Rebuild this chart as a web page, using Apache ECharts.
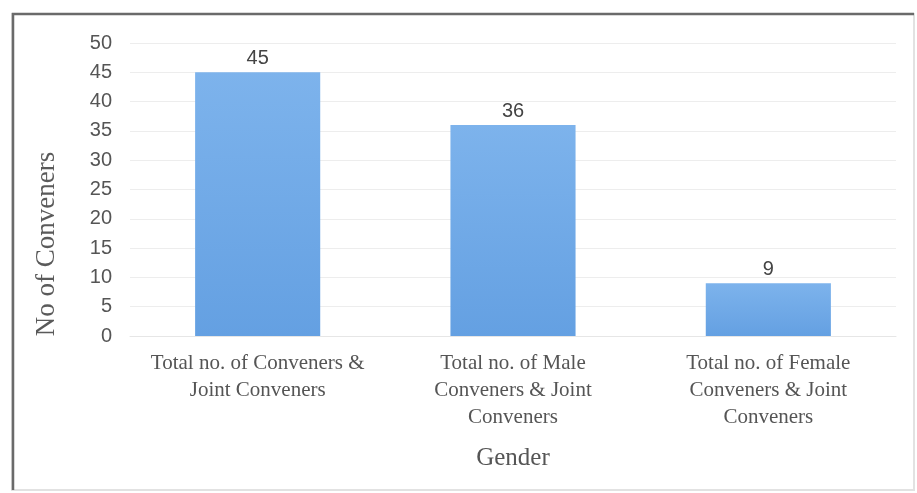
<!DOCTYPE html>
<html>
<head>
<meta charset="utf-8">
<script src="https://cdn.jsdelivr.net/npm/echarts@6/dist/echarts.min.js"></script>
<style>
  html, body { margin: 0; padding: 0; background: #fff; }
  #chart { width: 917px; height: 493px; }
</style>
</head>
<body>
<div id="chart"></div>
<script>
  const categories = [
    'Total no. of Conveners &\nJoint Conveners',
    'Total no. of Male\nConveners & Joint\nConveners',
    'Total no. of Female\nConveners & Joint\nConveners'
  ];
  const conveners = [45, 36, 9];

  const myChart = echarts.init(document.getElementById('chart'));
  myChart.setOption({
    animation: false,
    backgroundColor: '#fff',
    grid: { left: 130, right: 21, top: 43, bottom: 157 },
    graphic: [
      // scanned frame: dark left/top, faint right/bottom
      {
        type: 'rect',
        shape: { x: 12, y: 14, width: 902, height: 476 },
        style: { fill: 'none', stroke: '#e2e2e2', lineWidth: 2 }
      },
      {
        type: 'polyline',
        shape: { points: [[13, 490], [13, 14], [914, 14]] },
        style: { fill: 'none', stroke: '#6a6a6a', lineWidth: 2.5 }
      },
      {
        type: 'text',
        x: 47, y: 244,
        rotation: Math.PI / 2,
        style: {
          text: 'No of Conveners',
          fontFamily: 'Liberation Serif', fontSize: 27, fill: '#5a5a5a',
          align: 'center', verticalAlign: 'middle'
        }
      }
    ],
    xAxis: {
      type: 'category',
      data: categories,
      name: 'Gender',
      nameLocation: 'middle',
      nameGap: 110,
      nameTextStyle: { fontFamily: 'Liberation Serif', fontSize: 25, color: '#555' },
      axisLine: { show: true, lineStyle: { color: '#e6e6e6' } },
      axisTick: { show: false },
      axisLabel: {
        fontFamily: 'Liberation Serif', fontSize: 21, color: '#555',
        lineHeight: 27, margin: 14, interval: 0
      }
    },
    yAxis: {
      type: 'value',
      min: 0, max: 50, interval: 5,
      axisLine: { show: false },
      axisTick: { show: false },
      axisLabel: { fontFamily: 'Liberation Sans', fontSize: 20, color: '#555', margin: 18 },
      splitLine: { lineStyle: { color: '#ededed' } }
    },
    series: [
      {
        type: 'bar',
        data: conveners,
        barWidth: '49%',
        itemStyle: {
          color: new echarts.graphic.LinearGradient(0, 0, 0, 1, [
            { offset: 0, color: '#7db3ec' },
            { offset: 1, color: '#64a0e2' }
          ])
        },
        label: {
          show: true, position: 'top', distance: 4,
          fontFamily: 'Liberation Sans', fontSize: 20, color: '#444'
        }
      }
    ]
  });
</script>
</body>
</html>
